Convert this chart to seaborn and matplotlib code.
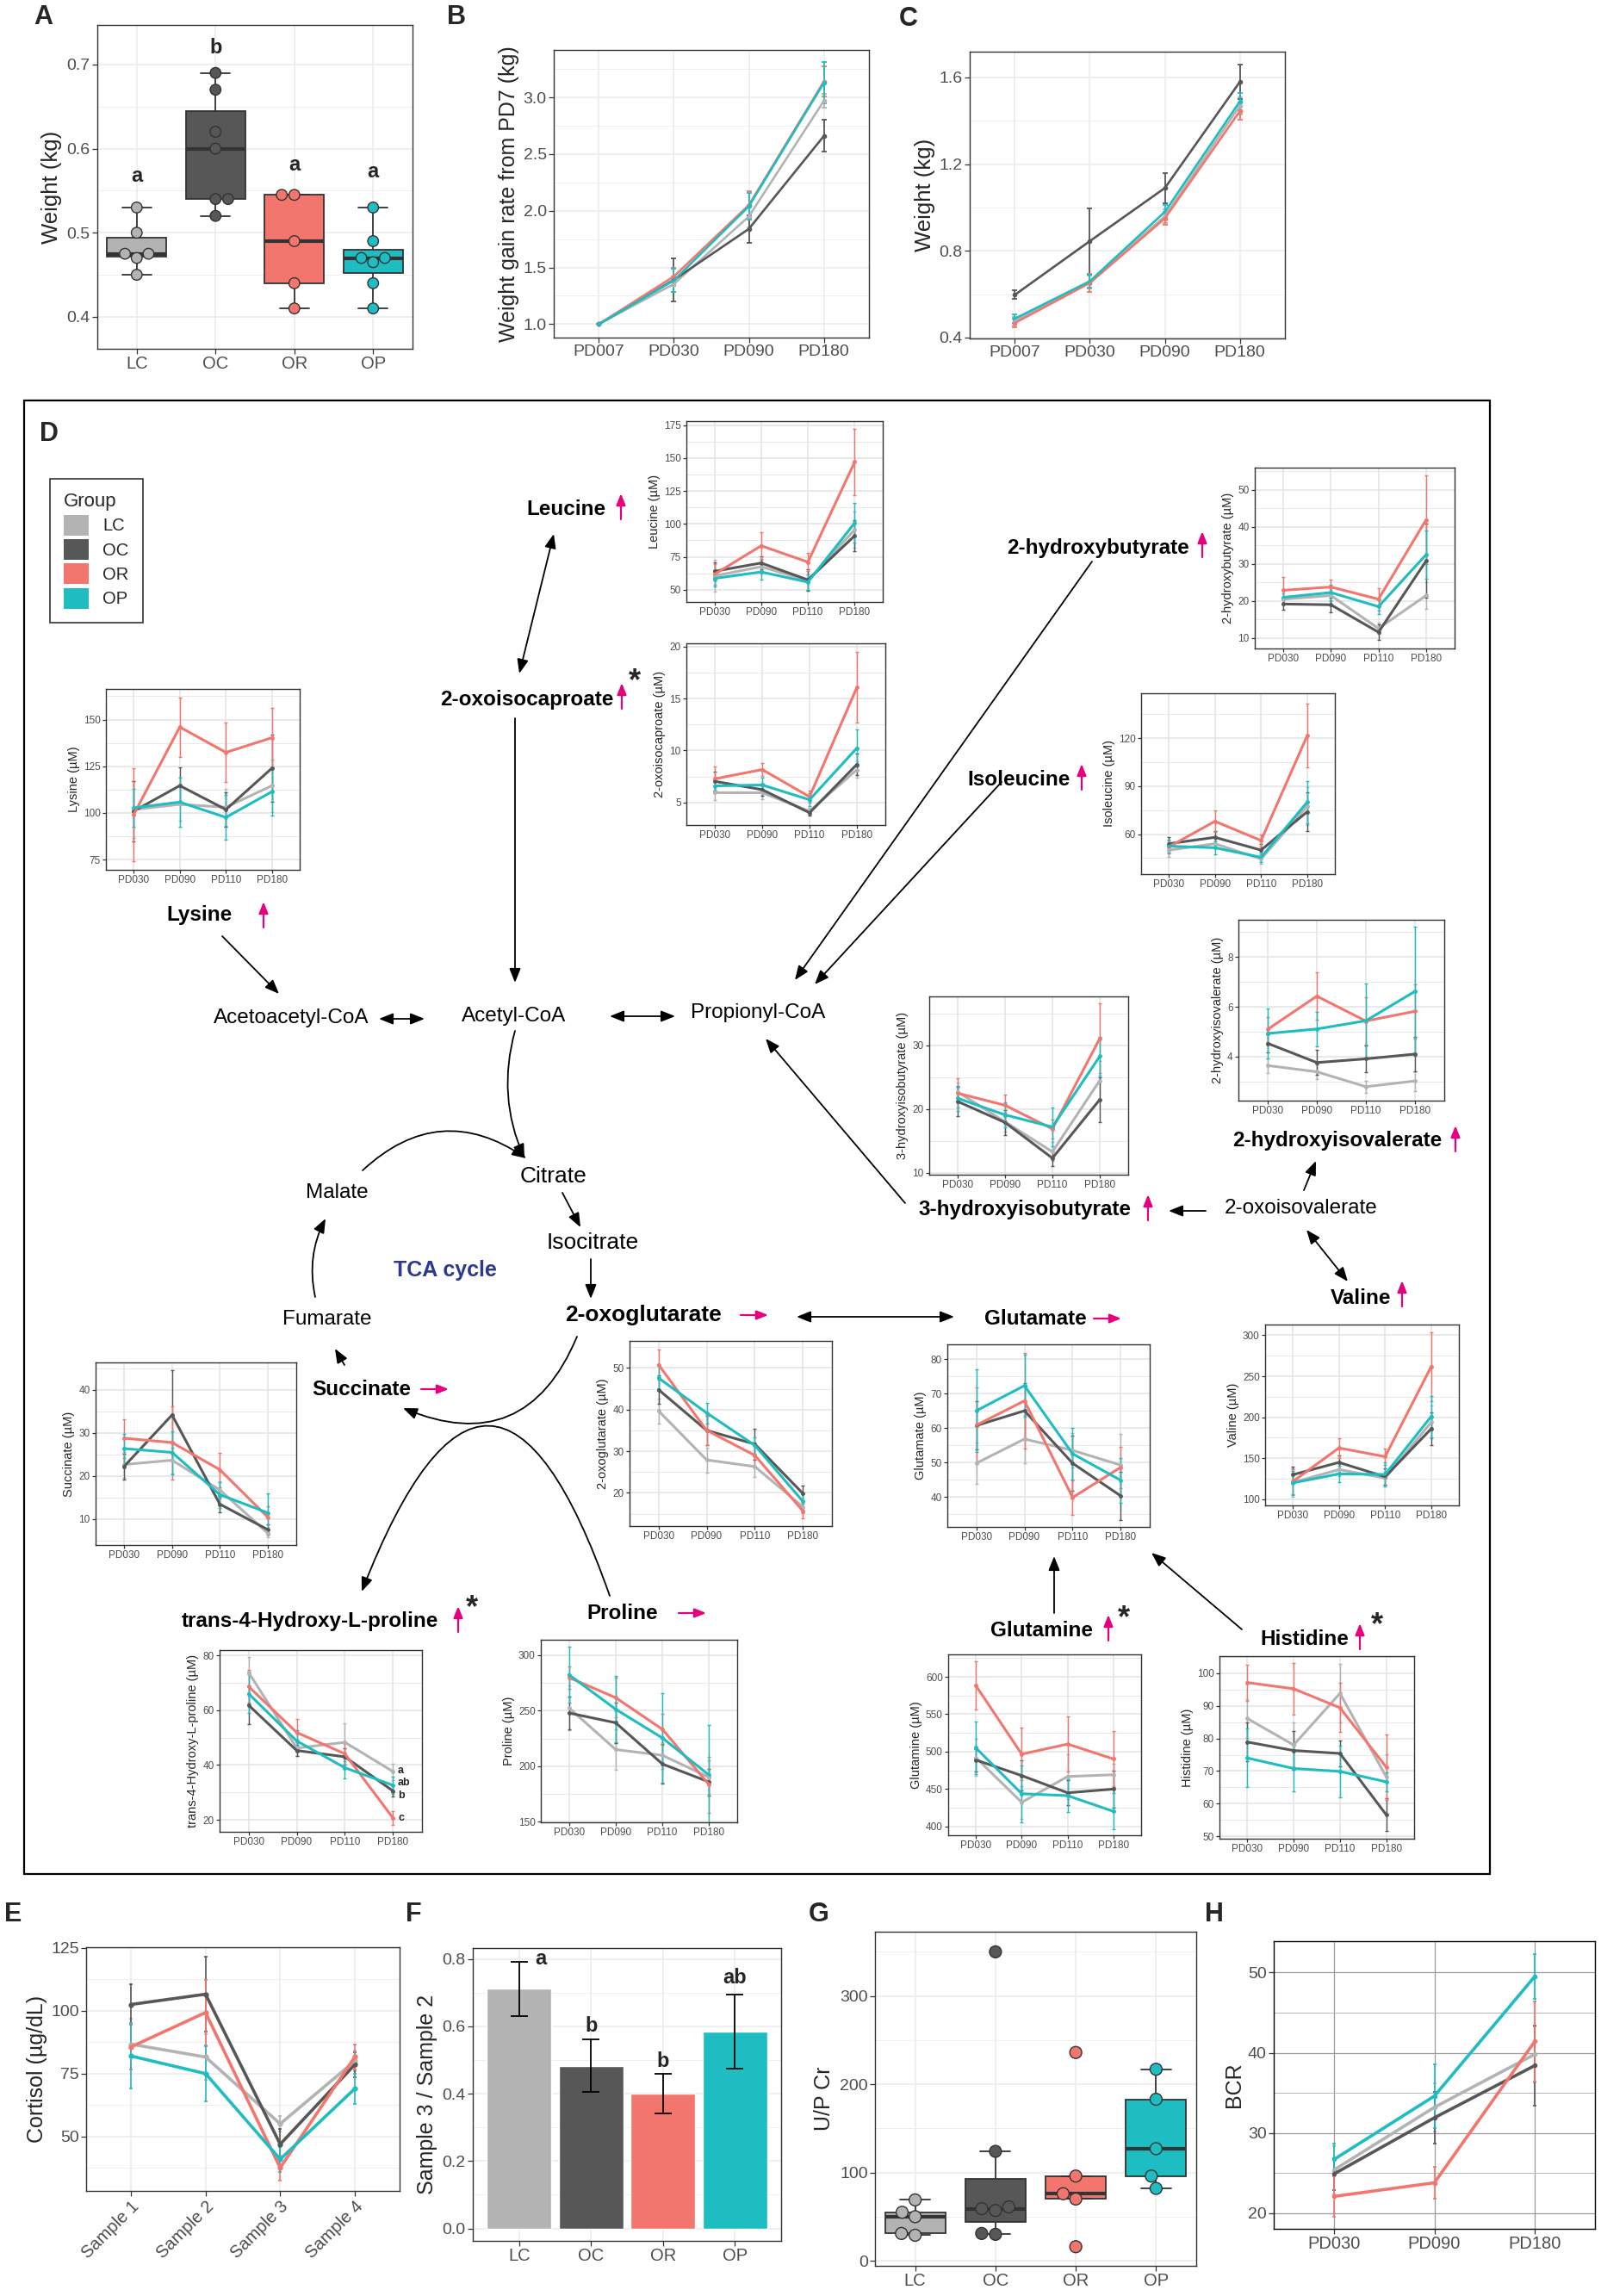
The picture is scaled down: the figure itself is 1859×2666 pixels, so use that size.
import matplotlib
matplotlib.use("Agg")
import matplotlib.pyplot as plt
from matplotlib.patches import Rectangle, Patch
from matplotlib.ticker import AutoMinorLocator
import pandas as pd
import seaborn as sns

sns.set_style("white")
plt.rcParams["font.family"] = ["Liberation Sans", "DejaVu Sans"]

W, H = 1859, 2666
GROUPS = ["LC", "OC", "OR", "OP"]
PALETTE = {"LC": "#B3B3B3", "OC": "#575757", "OR": "#F3766E", "OP": "#1DBDC1"}
MAGENTA = "#E6007E"

# ---------------- panel A: body weight at PD007
weight_lc = [0.45, 0.47, 0.475, 0.475, 0.50, 0.53]
weight_oc = [0.52, 0.54, 0.54, 0.60, 0.62, 0.67, 0.69]
weight_or = [0.41, 0.44, 0.49, 0.545, 0.545]
weight_op = [0.41, 0.44, 0.465, 0.47, 0.47, 0.49, 0.53]
letters_a = {"LC": ("a", 0.567), "OC": ("b", 0.720), "OR": ("a", 0.581), "OP": ("a", 0.572)}

# ---------------- panel B / C
tp_bc = ["PD007", "PD030", "PD090", "PD180"]
gain_mean = {"LC": [1.0, 1.354, 1.95, 2.97], "OC": [1.0, 1.39, 1.84, 2.66],
             "OR": [1.0, 1.42, 2.05, 3.14], "OP": [1.0, 1.385, 2.04, 3.13]}
gain_sd = {"LC": [0, 0.07, 0.10, 0.06], "OC": [0, 0.19, 0.12, 0.14],
           "OR": [0, 0.08, 0.12, 0.13], "OP": [0, 0.10, 0.12, 0.18]}
wt_mean = {"LC": [0.476, 0.656, 0.96, 1.47], "OC": [0.597, 0.845, 1.09, 1.58],
           "OR": [0.467, 0.652, 0.95, 1.445], "OP": [0.487, 0.66, 0.98, 1.49]}
wt_sd = {"LC": [0.02, 0.03, 0.03, 0.04], "OC": [0.02, 0.15, 0.07, 0.08],
         "OR": [0.02, 0.04, 0.03, 0.04], "OP": [0.02, 0.03, 0.03, 0.04]}

# ---------------- panel D: metabolites (µM)
tp_d = ["PD030", "PD090", "PD110", "PD180"]
leucine = {"LC": [60.5, 67.5, 57.0, 95.6], "OC": [64.0, 70.3, 57.5, 91.0],
           "OR": [61.7, 83.4, 71.0, 147.0], "OP": [58.6, 63.5, 55.8, 100.7]}
leucine_sd = {"LC": [12, 5, 7, 14], "OC": [7, 5, 8, 12], "OR": [8, 10, 7, 25], "OP": [6, 6, 6, 15]}
oxoisocaproate = {"LC": [5.95, 5.95, 4.17, 8.17], "OC": [7.04, 6.24, 4.02, 8.67],
                  "OR": [7.28, 8.17, 5.56, 16.07], "OP": [6.6, 6.69, 5.27, 10.24]}
oxoisocaproate_sd = {"LC": [0.7, 0.6, 0.3, 0.8], "OC": [0.9, 0.6, 0.3, 1.0],
                     "OR": [1.2, 0.6, 0.6, 3.4], "OP": [0.7, 0.7, 0.6, 1.8]}
lysine = {"LC": [101.8, 104.6, 103.0, 114.6], "OC": [100.9, 114.6, 101.8, 124.0],
          "OR": [99.0, 146.0, 132.4, 140.3], "OP": [102.7, 105.8, 97.6, 111.4]}
lysine_sd = {"LC": [15, 9, 10, 14], "OC": [16, 10, 9, 18], "OR": [25, 16, 16, 16], "OP": [10, 13, 12, 13]}
hydroxybutyrate = {"LC": [20.5, 21.5, 12.6, 21.5], "OC": [19.2, 19.0, 11.6, 30.8],
                   "OR": [22.9, 23.8, 20.5, 41.9], "OP": [21.0, 22.3, 18.5, 32.5]}
hydroxybutyrate_sd = {"LC": [1.5, 1.5, 1.5, 3.5], "OC": [1.5, 2, 2, 10],
                      "OR": [3.5, 2, 3, 12], "OP": [2, 2, 2, 6.5]}
isoleucine = {"LC": [50.0, 54.0, 44.5, 77.5], "OC": [54.0, 58.0, 50.0, 74.0],
              "OR": [52.0, 68.0, 56.0, 121.5], "OP": [52.5, 51.5, 45.5, 80.0]}
isoleucine_sd = {"LC": [4, 3, 3, 12], "OC": [4, 4, 4, 12], "OR": [4, 6.6, 4, 20], "OP": [4, 4, 3, 13]}
hydroxyisobutyrate = {"LC": [22.7, 18.0, 13.3, 24.5], "OC": [21.2, 17.9, 12.3, 21.5],
                      "OR": [22.5, 20.6, 16.9, 31.1], "OP": [21.7, 19.1, 17.2, 28.3]}
hydroxyisobutyrate_sd = {"LC": [1.5, 1.5, 1.5, 3], "OC": [2.3, 2, 1.3, 3.5],
                         "OR": [2.3, 1.7, 1.5, 5.5], "OP": [2, 2, 3, 3]}
hydroxyisovalerate = {"LC": [3.64, 3.39, 2.79, 3.02], "OC": [4.53, 3.76, 3.91, 4.10],
                      "OR": [5.10, 6.43, 5.43, 5.82], "OP": [4.93, 5.11, 5.44, 6.62]}
hydroxyisovalerate_sd = {"LC": [0.3, 0.3, 0.25, 0.4], "OC": [0.35, 0.5, 0.55, 0.7],
                         "OR": [0.5, 0.95, 0.95, 1.1], "OP": [1.0, 0.7, 1.5, 2.6]}
succinate = {"LC": [22.6, 23.6, 16.7, 6.7], "OC": [22.2, 34.1, 13.4, 7.5],
             "OR": [28.7, 27.7, 21.4, 10.4], "OP": [26.3, 25.4, 15.6, 11.4]}
succinate_sd = {"LC": [3, 3, 2, 1], "OC": [3, 10.4, 1.8, 1.2], "OR": [4.5, 8.5, 4, 2.6], "OP": [3.5, 5, 3, 4.6]}
oxoglutarate = {"LC": [39.7, 27.9, 26.3, 16.6], "OC": [44.8, 35.0, 31.7, 19.8],
                "OR": [50.8, 35.0, 29.0, 15.6], "OP": [47.6, 39.2, 31.4, 17.9]}
oxoglutarate_sd = {"LC": [3, 3, 2.5, 1.5], "OC": [3.5, 3.5, 3.7, 2], "OR": [3.7, 3.5, 3, 1.8], "OP": [2.8, 2.5, 2, 2]}
glutamate = {"LC": [49.75, 56.8, 53.5, 49.2], "OC": [60.7, 65.0, 49.75, 40.25],
             "OR": [60.8, 67.9, 39.8, 48.6], "OP": [65.0, 72.3, 52.5, 44.8]}
glutamate_sd = {"LC": [6, 7, 5, 9], "OC": [7, 8, 8, 7], "OR": [11, 14, 5, 6], "OP": [12, 9, 7.5, 6.5]}
valine = {"LC": [120.5, 136.3, 125.8, 194.0], "OC": [130.0, 145.0, 127.5, 186.0],
          "OR": [121.7, 162.6, 152.0, 261.8], "OP": [120.0, 131.0, 130.3, 201.0]}
valine_sd = {"LC": [17, 8, 8, 20], "OC": [10, 8, 10, 20], "OR": [15, 12, 10, 42], "OP": [15, 10, 15, 25]}
hydroxyproline = {"LC": [73.9, 46.2, 48.3, 37.6], "OC": [61.9, 45.3, 43.0, 30.5],
                  "OR": [68.7, 51.9, 44.1, 20.6], "OP": [66.1, 48.8, 39.0, 32.6]}
hydroxyproline_sd = {"LC": [5.5, 3, 7, 3], "OC": [7, 2, 3, 2], "OR": [6, 5, 4, 2.5], "OP": [7, 4, 4, 3]}
hydroxyproline_letters = {"LC": ("a", 38.1), "OP": ("ab", 33.6), "OC": ("b", 28.8), "OR": ("c", 20.6)}
proline = {"LC": [252.6, 215.0, 209.8, 190.0], "OC": [247.9, 239.1, 202.0, 185.8],
           "OR": [279.8, 261.7, 233.2, 183.3], "OP": [282.4, 251.3, 225.4, 192.0]}
proline_sd = {"LC": [20, 18, 12, 15], "OC": [15, 18, 18, 12], "OR": [10, 18, 14, 25], "OP": [25, 30, 40, 45]}
glutamine = {"LC": [492.0, 432.0, 466.6, 469.0], "OC": [488.8, 467.8, 444.8, 449.8],
             "OR": [588.5, 496.5, 510.0, 490.0], "OP": [505.0, 443.6, 441.0, 419.9]}
glutamine_sd = {"LC": [25, 22, 30, 15], "OC": [15, 20, 17, 25], "OR": [32, 35, 37, 37], "OP": [35, 38, 22, 24]}
histidine = {"LC": [86.1, 78.0, 93.8, 68.2], "OC": [78.9, 76.3, 75.4, 56.6],
             "OR": [97.1, 95.2, 89.4, 71.2], "OP": [74.0, 70.8, 69.9, 66.7]}
histidine_sd = {"LC": [6, 7, 9, 7], "OC": [6, 6, 4, 5], "OR": [5.5, 8, 7.5, 10], "OP": [9, 7, 8, 3]}

# ---------------- panel E: cortisol
tp_e = ["Sample 1", "Sample 2", "Sample 3", "Sample 4"]
cortisol = {"LC": [86.7, 81.6, 55.0, 80.0], "OC": [102.5, 106.6, 46.9, 78.6],
            "OR": [85.6, 99.3, 37.5, 81.6], "OP": [82.0, 75.0, 40.9, 69.0]}
cortisol_sd = {"LC": [10, 9, 3, 4], "OC": [8, 15, 6, 5], "OR": [9, 13, 5, 5], "OP": [13, 11, 5, 6]}

# ---------------- panel F: ratio sample 3 / sample 2
ratio = [0.711, 0.482, 0.400, 0.585]
ratio_se = [0.080, 0.078, 0.060, 0.110]
ratio_letters = ["a", "b", "b", "ab"]

# ---------------- panel G: urine protein/creatinine
upcr_lc = [29, 31, 50, 55, 69]
upcr_oc = [30, 31, 57, 59, 61, 124, 350]
upcr_or = [16, 70, 76, 96, 236]
upcr_op = [82, 96, 127, 183, 217]

# ---------------- panel H: BCR
tp_h = ["PD030", "PD090", "PD180"]
bcr = {"LC": [25.4, 33.2, 39.8], "OC": [24.9, 31.9, 38.4], "OR": [22.1, 23.8, 41.4], "OP": [26.7, 34.6, 49.5]}
bcr_sd = {"LC": [3, 3, 3.5], "OC": [2, 3.2, 5], "OR": [2.5, 2, 5], "OP": [2, 4, 2.8]}


fig = plt.figure(figsize=(W / 100, H / 100), dpi=100)

# overlay for pathway drawing and panel letters
ov = fig.add_axes([0, 0, 1, 1])
ov.set_xlim(0, W)
ov.set_ylim(H, 0)
ov.axis("off")


def px_axes(x0, x1, y0, y1):
    return fig.add_axes([x0 / W, 1 - y1 / H, (x1 - x0) / W, (y1 - y0) / H])


def bw_style(ax, tick_size, grid="#EBEBEB", border="#333333", major_lw=1.1, minor_lw=0.55,
             minor_color=None, tick_len=4):
    ax.set_facecolor("white")
    for sp in ax.spines.values():
        sp.set_visible(True)
        sp.set_color(border)
        sp.set_linewidth(1.0)
    ax.yaxis.set_minor_locator(AutoMinorLocator(2))
    ax.grid(True, which="major", color=grid, linewidth=major_lw)
    ax.grid(True, which="minor", axis="y", color=minor_color or grid, linewidth=minor_lw)
    ax.tick_params(axis="both", which="major", length=tick_len, width=0.9, color="#333333",
                   labelcolor="#4D4D4D", labelsize=tick_size, pad=2, left=True, bottom=True)
    ax.tick_params(which="minor", length=0)
    ax.set_axisbelow(True)


def line_panel(ax, tps, means, sds, ylim, yticks, ylabel, tick_size, label_size,
               lw, err_lw, cap, ms, tick_len=4, grid="#EBEBEB"):
    rows = []
    for g in GROUPS:
        for i, v in enumerate(means[g]):
            rows.append({"pos": i, "group": g, "value": v, "err": sds[g][i]})
    df = pd.DataFrame(rows)
    for g in GROUPS:
        sub = df[df["group"] == g]
        ax.errorbar(sub["pos"], sub["value"], yerr=sub["err"], fmt="o", ms=ms,
                    color=PALETTE[g], elinewidth=err_lw, capsize=cap, capthick=err_lw, zorder=2)
    sns.lineplot(data=df, x="pos", y="value", hue="group", hue_order=GROUPS, palette=PALETTE,
                 linewidth=lw, legend=False, ax=ax, errorbar=None, sort=False, zorder=3)
    ax.set_xticks(range(len(tps)))
    ax.set_xticklabels(tps)
    ax.set_xlim(-0.6, len(tps) - 0.4)
    ax.set_ylim(*ylim)
    ax.set_yticks(yticks)
    ax.set_xlabel("")
    ax.set_ylabel(ylabel, fontsize=label_size, labelpad=3)
    bw_style(ax, tick_size, tick_len=tick_len, grid=grid)


def panel_letter(x, y, s):
    ov.text(x, y, s, fontsize=22, fontweight="bold", ha="center", va="center")


# ================= A
ax_a = px_axes(113, 479, 29, 405)
df_a = pd.DataFrame({
    "group": ["LC"] * len(weight_lc) + ["OC"] * len(weight_oc) + ["OR"] * len(weight_or) + ["OP"] * len(weight_op),
    "weight": weight_lc + weight_oc + weight_or + weight_op,
})
sns.boxplot(data=df_a, x="group", y="weight", hue="group", order=GROUPS, hue_order=GROUPS,
            palette=PALETTE, width=0.75, whis=(0, 100), saturation=1, linecolor="#333333",
            linewidth=1.3, showfliers=False, legend=False, ax=ax_a,
            medianprops={"color": "#333333", "linewidth": 3})
sns.swarmplot(data=df_a, x="group", y="weight", hue="group", order=GROUPS, hue_order=GROUPS,
              palette=PALETTE, size=9, edgecolor="#333333", linewidth=1, legend=False, ax=ax_a)
for g in GROUPS:
    ax_a.text(g, letters_a[g][1], letters_a[g][0], fontsize=17, fontweight="bold", ha="center", va="center")
ax_a.set_ylim(0.362, 0.747)
ax_a.set_yticks([0.4, 0.5, 0.6, 0.7])
ax_a.set_xlabel("")
ax_a.set_ylabel("Weight (kg)", fontsize=18.5)
bw_style(ax_a, 14)
ax_a.tick_params(axis="x", labelsize=14.5)
panel_letter(50, 20, "A")

# ================= B
ax_b = px_axes(643, 1009, 58, 392)
line_panel(ax_b, tp_bc, gain_mean, gain_sd, (0.881, 3.418), [1.0, 1.5, 2.0, 2.5, 3.0],
           "Weight gain rate from PD7 (kg)", 14, 18, 1.9, 1.3, 2, 3)
panel_letter(530, 20, "B")

# ================= C
ax_c = px_axes(1126, 1492, 60, 393)
line_panel(ax_c, tp_bc, wt_mean, wt_sd, (0.396, 1.719), [0.4, 0.8, 1.2, 1.6],
           "Weight (kg)", 14, 18.5, 1.9, 1.3, 2, 3)
panel_letter(1055, 22, "C")

# ================= D frame, legend
ov.add_patch(Rectangle((28, 465), 1702, 1711, fill=False, edgecolor="black", linewidth=1.6))
panel_letter(57, 504, "D")
handles = [Patch(facecolor=PALETTE[g], edgecolor="none", label=g) for g in GROUPS]
leg = fig.legend(handles=handles, title="Group", loc="upper left",
                 bbox_to_anchor=(48 / W, 1 - 546 / H), fontsize=14.5, title_fontsize=16,
                 frameon=True, fancybox=False, edgecolor="black", handlelength=1.45,
                 handleheight=1.45, labelspacing=0.22, handletextpad=0.8, borderpad=0.8)
leg.get_frame().set_linewidth(1.2)
leg._legend_box.align = "left"

d_panels = [
    (leucine, leucine_sd, "Leucine (µM)", (797, 1025, 489, 699), (40.7, 178), [50, 75, 100, 125, 150, 175]),
    (oxoisocaproate, oxoisocaproate_sd, "2-oxoisocaproate (µM)", (797, 1028, 747, 958), (2.84, 20.3), [5, 10, 15, 20]),
    (lysine, lysine_sd, "Lysine (µM)", (123, 348, 800, 1010), (69.5, 166.4), [75, 100, 125, 150]),
    (hydroxybutyrate, hydroxybutyrate_sd, "2-hydroxybutyrate (µM)", (1457, 1689, 543, 753), (7.2, 56), [10, 20, 30, 40, 50]),
    (isoleucine, isoleucine_sd, "Isoleucine (µM)", (1325, 1550, 805, 1015), (35, 148), [60, 90, 120]),
    (hydroxyisobutyrate, hydroxyisobutyrate_sd, "3-hydroxyisobutyrate (µM)", (1079, 1310, 1157, 1364), (9.7, 37.7), [10, 20, 30]),
    (hydroxyisovalerate, hydroxyisovalerate_sd, "2-hydroxyisovalerate (µM)", (1438, 1677, 1068, 1278), (2.23, 9.5), [4, 6, 8]),
    (succinate, succinate_sd, "Succinate (µM)", (111, 344, 1582, 1794), (3.9, 46.3), [10, 20, 30, 40]),
    (oxoglutarate, oxoglutarate_sd, "2-oxoglutarate (µM)", (731, 966, 1557, 1772), (12, 56.5), [20, 30, 40, 50]),
    (glutamate, glutamate_sd, "Glutamate (µM)", (1100, 1335, 1561, 1773), (31.25, 84.3), [40, 50, 60, 70, 80]),
    (valine, valine_sd, "Valine (µM)", (1469, 1694, 1538, 1748), (92.6, 313), [100, 150, 200, 250, 300]),
    (hydroxyproline, hydroxyproline_sd, "trans-4-Hydroxy-L-proline (µM)", (255, 490, 1916, 2127), (15.6, 82), [20, 40, 60, 80]),
    (proline, proline_sd, "Proline (µM)", (628, 856, 1904, 2116), (149.5, 313.8), [150, 200, 250, 300]),
    (glutamine, glutamine_sd, "Glutamine (µM)", (1101, 1325, 1921, 2131), (388, 630), [400, 450, 500, 550, 600]),
    (histidine, histidine_sd, "Histidine (µM)", (1416, 1642, 1923, 2135), (49.3, 105.2), [50, 60, 70, 80, 90, 100]),
]
d_axes = {}
for means, sds, ylab, rect, ylim, yticks in d_panels:
    ax = px_axes(*rect)
    line_panel(ax, tp_d, means, sds, ylim, yticks, ylab, 8.5, 10.5, 2.2, 1.0, 1.2, 2.5,
               tick_len=3, grid="#E3E3E3")
    ax.tick_params(axis="both", pad=1.5)
    d_axes[ylab] = ax

ax_hp = d_axes["trans-4-Hydroxy-L-proline (µM)"]
for g, (lab, yv) in hydroxyproline_letters.items():
    ax_hp.text(3.1, yv, lab, fontsize=9, fontweight="bold", ha="left", va="center")


# ---- pathway text and arrows
def label(x, y, s, bold=True, size=17.5, color="black"):
    ov.text(x, y, s, fontsize=size, fontweight="bold" if bold else "normal", color=color,
            ha="center", va="center")


def arrow(start, end, style="-|>", rad=0.0, color="black", lw=1.3, ms=18):
    ov.annotate("", xy=end, xytext=start, xycoords="data", textcoords="data",
                arrowprops=dict(arrowstyle=style, color=color, lw=lw, mutation_scale=ms,
                                shrinkA=0, shrinkB=0, connectionstyle=f"arc3,rad={rad}"))


HEAD = "-|>,head_length=0.55,head_width=0.22"
DHEAD = "<|-|>,head_length=0.55,head_width=0.22"
MHEAD = "-|>,head_length=0.5,head_width=0.2"


def up(x, y):
    arrow((x, y + 15), (x, y - 15), style=MHEAD, color=MAGENTA, lw=1.6, ms=16)


def right(x, y):
    arrow((x - 16, y), (x + 16, y), style=MHEAD, color=MAGENTA, lw=1.6, ms=16)


def star(x, y):
    ov.text(x, y, "*", fontsize=26, fontweight="bold", ha="center", va="center")


label(657, 592, "Leucine"); up(721, 588)
label(612, 812, "2-oxoisocaproate"); up(722, 808); star(737, 792)
label(232, 1062, "Lysine"); up(306, 1062)
label(1275, 636, "2-hydroxybutyrate"); up(1396, 632)
label(1183, 906, "Isoleucine"); up(1256, 902)
label(338, 1182, "Acetoacetyl-CoA", bold=False)
label(597, 1180, "Acetyl-CoA", bold=False)
label(880, 1176, "Propionyl-CoA", bold=False)
label(643, 1366, "Citrate", bold=False, size=19)
label(391, 1385, "Malate", bold=False)
label(688, 1443, "Isocitrate", bold=False, size=19)
label(517, 1475, "TCA cycle", size=18, color="#2B3990")
label(380, 1532, "Fumarate", bold=False)
label(747, 1527, "2-oxoglutarate", size=19); right(876, 1527)
label(1202, 1531, "Glutamate"); right(1286, 1531)
label(420, 1613, "Succinate"); right(505, 1613)
label(1190, 1405, "3-hydroxyisobutyrate"); up(1333, 1402)
label(1511, 1403, "2-oxoisovalerate", bold=False)
label(1553, 1325, "2-hydroxyisovalerate"); up(1690, 1322)
label(1580, 1507, "Valine"); up(1628, 1502)
label(360, 1883, "trans-4-Hydroxy-L-proline"); up(532, 1880); star(548, 1868)
label(723, 1873, "Proline"); right(804, 1873)
label(1210, 1893, "Glutamine"); up(1287, 1890); star(1305, 1880)
label(1515, 1903, "Histidine"); up(1579, 1900); star(1599, 1888)

arrow((643, 620), (603, 782), style=DHEAD)
arrow((598, 834), (598, 1141), style=HEAD)
arrow((258, 1087), (324, 1154), style=HEAD)
arrow((440, 1183), (493, 1183), style=DHEAD)
arrow((708, 1180), (784, 1180), style=DHEAD)
arrow((1268, 652), (923, 1138), style=HEAD)
arrow((1163, 908), (946, 1143), style=HEAD)
arrow((1051, 1397), (889, 1206), style=HEAD)
arrow((598, 1197), (609, 1345), style=HEAD, rad=0.18)
arrow((421, 1359), (611, 1345), style=HEAD, rad=-0.4)
arrow((653, 1385), (674, 1425), style=HEAD)
arrow((686, 1462), (686, 1508), style=HEAD)
arrow((366, 1506), (378, 1415), style=HEAD, rad=-0.18)
arrow((400, 1585), (389, 1566), style=HEAD)
arrow((670, 1552), (468, 1635), style=HEAD, rad=-0.5)
arrow((708, 1853), (420, 1848), style=HEAD, rad=1.35)
arrow((925, 1529), (1108, 1529), style=DHEAD)
arrow((1400, 1406), (1357, 1406), style=HEAD)
arrow((1514, 1382), (1528, 1348), style=HEAD)
arrow((1517, 1428), (1565, 1488), style=DHEAD)
arrow((1224, 1873), (1224, 1807), style=HEAD)
arrow((1442, 1892), (1337, 1803), style=HEAD)

# ================= E
ax_e = px_axes(100, 464, 2261, 2544)
line_panel(ax_e, tp_e, cortisol, cortisol_sd, (28.3, 125.3), [50, 75, 100, 125],
           "Cortisol (µg/dL)", 14, 18, 2.6, 1.2, 1.2, 3.5)
for t in ax_e.get_xticklabels():
    t.set_rotation(45)
    t.set_ha("right")
    t.set_rotation_mode("anchor")
ax_e.tick_params(axis="x", labelsize=14.5)
panel_letter(15, 2223, "E")

# ================= F
ax_f = px_axes(549, 907, 2262, 2602)
sns.barplot(x=GROUPS, y=ratio, hue=GROUPS, palette=PALETTE, width=0.9, saturation=1,
            legend=False, ax=ax_f)
ax_f.errorbar(GROUPS, ratio, yerr=ratio_se, fmt="none", ecolor="black", elinewidth=1.3,
              capsize=7, capthick=1.3)
letter_y = [0.80, 0.60, 0.495, 0.745]
letter_dx = [0.28, 0, 0, 0]
for i, g in enumerate(GROUPS):
    ax_f.annotate(ratio_letters[i], (g, letter_y[i]), xytext=(letter_dx[i] * 88, 0),
                  textcoords="offset pixels", fontsize=17, fontweight="bold", ha="center", va="center")
ax_f.set_ylim(-0.037, 0.832)
ax_f.set_yticks([0.0, 0.2, 0.4, 0.6, 0.8])
ax_f.set_ylabel("Sample 3 / Sample 2", fontsize=18)
bw_style(ax_f, 14)
ax_f.tick_params(axis="x", labelsize=14.5)
panel_letter(480, 2223, "F")

# ================= G
ax_g = px_axes(1016, 1389, 2243, 2631)
df_g = pd.DataFrame({
    "group": ["LC"] * len(upcr_lc) + ["OC"] * len(upcr_oc) + ["OR"] * len(upcr_or) + ["OP"] * len(upcr_op),
    "upcr": upcr_lc + upcr_oc + upcr_or + upcr_op,
})
sns.boxplot(data=df_g, x="group", y="upcr", hue="group", order=GROUPS, hue_order=GROUPS,
            palette=PALETTE, width=0.75, saturation=1, linecolor="#333333", linewidth=1.3,
            showfliers=False, legend=False, ax=ax_g,
            medianprops={"color": "#333333", "linewidth": 3})
sns.swarmplot(data=df_g, x="group", y="upcr", hue="group", order=GROUPS, hue_order=GROUPS,
              palette=PALETTE, size=10, edgecolor="#333333", linewidth=1, legend=False, ax=ax_g)
ax_g.set_ylim(-5.7, 372.8)
ax_g.set_yticks([0, 100, 200, 300])
ax_g.set_xlabel("")
ax_g.set_ylabel("U/P Cr", fontsize=18)
bw_style(ax_g, 14)
ax_g.tick_params(axis="x", labelsize=14.5)
panel_letter(951, 2223, "G")

# ================= H
ax_h = px_axes(1479, 1852, 2254, 2588)
line_panel(ax_h, tp_h, bcr, bcr_sd, (18.06, 53.9), [20, 30, 40, 50], "BCR", 14, 18,
           2.6, 1.2, 1.2, 3)
bw_style(ax_h, 14, grid="#9A9A9A", border="black", major_lw=0.9, minor_lw=0.7, minor_color="#B5B5B5")
ax_h.tick_params(axis="x", labelsize=14.5)
panel_letter(1410, 2223, "H")

fig.savefig("out.png", dpi=100)
